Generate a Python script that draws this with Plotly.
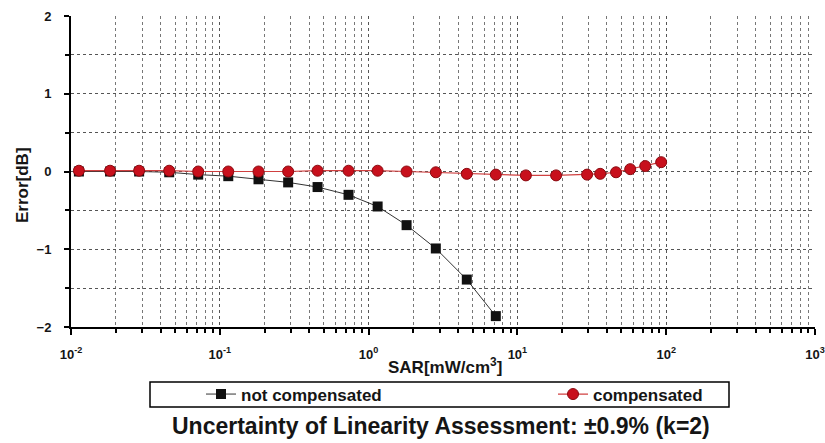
import plotly.graph_objects as go

# SAR values (mW/cm^3)
sar_not_comp = [0.0113, 0.0183, 0.0287, 0.0457, 0.0716, 0.114, 0.182, 0.288,
                0.454, 0.733, 1.15, 1.80, 2.83, 4.57, 7.16]
err_not_comp = [0.0, 0.0, 0.0, -0.01, -0.04, -0.06, -0.10, -0.14,
                -0.20, -0.30, -0.45, -0.69, -0.99, -1.39, -1.86]

sar_comp = [0.0113, 0.0183, 0.0287, 0.0457, 0.0716, 0.114, 0.182, 0.288,
            0.454, 0.733, 1.15, 1.80, 2.83, 4.57, 7.16, 11.4, 18.2,
            29.4, 36.0, 46.0, 57.3, 72.3, 92.5]
err_comp = [0.01, 0.01, 0.01, 0.01, 0.0, 0.0, 0.0, 0.0,
            0.01, 0.01, 0.01, 0.0, -0.01, -0.03, -0.04, -0.05, -0.05,
            -0.04, -0.03, -0.01, 0.03, 0.07, 0.12]

x_tickvals = [0.01, 0.1, 1, 10, 100, 1000]
x_ticktext = ["10<sup>-2</sup>", "10<sup>-1</sup>", "10<sup>0</sup>",
              "10<sup>1</sup>", "10<sup>2</sup>", "10<sup>3</sup>"]
x_minor_vals = [m * d for d in [0.01, 0.1, 1, 10, 100] for m in range(2, 10)]
y_tickvals = [-2, -1, 0, 1, 2]
y_minor_vals = [-1.5, -0.5, 0.5, 1.5]

W, H = 825, 443
ml, mr, mt, mb = 71, 10, 16, 116

FONT = "Liberation Sans"
TXT = "#151515"

fig = go.Figure()
fig.add_trace(go.Scatter(
    x=sar_not_comp, y=err_not_comp, mode="lines+markers", name="not compensated",
    line=dict(color="#333333", width=1),
    marker=dict(symbol="square", size=10, color="#111111"),
    legend="legend",
))
fig.add_trace(go.Scatter(
    x=sar_comp, y=err_comp, mode="lines+markers", name="compensated",
    line=dict(color="#d04040", width=1.2),
    marker=dict(symbol="circle", size=11, color="#c8101c",
                line=dict(color="#8a0a10", width=1)),
    legend="legend2",
))

fig.update_xaxes(
    type="log", range=[-2, 3],
    tickvals=x_tickvals, ticktext=x_ticktext,
    showline=True, linecolor="black", linewidth=2,
    ticks="outside", ticklen=6, tickwidth=2, tickcolor="black",
    showgrid=True, gridcolor="#555555", griddash="dot", gridwidth=1,
    minor=dict(tickvals=x_minor_vals, ticks="outside", ticklen=4, tickwidth=2,
               tickcolor="black", showgrid=True, gridcolor="#777777",
               griddash="dot", gridwidth=1),
    zeroline=False, ticklabelstandoff=8,
    tickfont=dict(family=FONT, size=13, color=TXT, weight="bold"),
    automargin=False,
)
fig.update_yaxes(
    range=[-2, 2], tickvals=y_tickvals,
    showline=True, linecolor="black", linewidth=2,
    ticks="outside", ticklen=5, tickwidth=2, tickcolor="black",
    showgrid=True, gridcolor="#555555", griddash="dot", gridwidth=1,
    minor=dict(tickvals=y_minor_vals, ticks="outside", ticklen=4, tickwidth=2,
               tickcolor="black", showgrid=True, gridcolor="#555555",
               griddash="dot", gridwidth=1),
    zeroline=False, ticklabelstandoff=10,
    tickfont=dict(family=FONT, size=13, color=TXT, weight="bold"),
    automargin=False,
)

pw = W - ml - mr
ph = H - mt - mb

def px_x(p):
    return (p - ml) / pw

def px_y(p):
    return (H - mb - p) / ph

# legend box
fig.add_shape(type="rect", xref="paper", yref="paper",
              x0=px_x(150), x1=px_x(729), y0=px_y(407), y1=px_y(382),
              line=dict(color="black", width=1.5), fillcolor="white", layer="below")

legend_font = dict(family=FONT, size=17, color=TXT, weight="bold")

fig.update_layout(
    width=W, height=H,
    margin=dict(l=ml, r=mr, t=mt, b=mb),
    plot_bgcolor="white", paper_bgcolor="white",
    showlegend=True,
    legend=dict(orientation="h", xanchor="left", yanchor="middle",
                x=px_x(201), y=px_y(394.5),
                bgcolor="rgba(0,0,0,0)", borderwidth=0, font=legend_font),
    legend2=dict(orientation="h", xanchor="left", yanchor="middle",
                 x=px_x(553), y=px_y(394.5),
                 bgcolor="rgba(0,0,0,0)", borderwidth=0, font=legend_font),
    annotations=[
        dict(text="Uncertainty of Linearity Assessment: ±0.9% (k=2)",
             xref="paper", yref="paper", x=px_x(441), y=px_y(426),
             xanchor="center", yanchor="middle", showarrow=False,
             font=dict(family=FONT, size=23, color=TXT, weight="bold")),
        dict(text="SAR[mW/cm<sup>3</sup>]",
             xref="paper", yref="paper", x=px_x(445), y=px_y(366),
             xanchor="center", yanchor="middle", showarrow=False,
             font=dict(family=FONT, size=17, color=TXT, weight="bold")),
        dict(text="Error[dB]", textangle=-90,
             xref="paper", yref="paper", x=px_x(22), y=px_y(185),
             xanchor="center", yanchor="middle", showarrow=False,
             font=dict(family=FONT, size=17, color=TXT, weight="bold")),
    ],
)

fig.write_html("out.html")
